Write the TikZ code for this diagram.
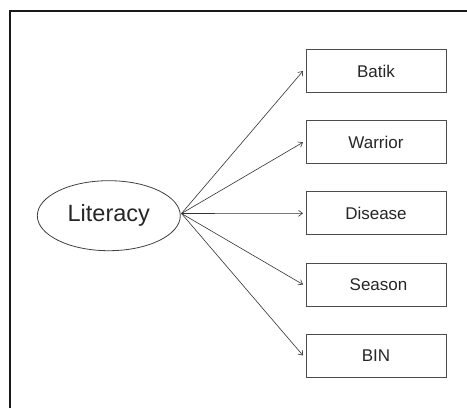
\documentclass[tikz,border=0pt]{standalone}
\usepackage{fontspec}
\setmainfont{Liberation Sans}
\usetikzlibrary{shapes.geometric,arrows.meta}
\begin{document}
\begin{tikzpicture}[x=1pt,y=-1pt,
  itembox/.style={draw=black!70,line width=1pt,minimum width=140pt,minimum height=43pt,inner sep=0pt,font=\fontsize{17}{19}\selectfont,text=black!85},
  latent/.style={ellipse,draw=black!75,line width=0.8pt,minimum width=143pt,minimum height=70pt,inner sep=0pt,font=\fontsize{23.5}{25}\selectfont,text=black!85},
  link/.style={draw=black!80,line width=0.6pt,-{Straight Barb[length=4pt,width=6pt]}}]
\useasboundingbox (0,0) rectangle (467,408);
\draw[line width=1.8pt,black!90] (10,408) -- (10,11) -- (467,11);
\node[latent] (lit) at (108.8,215.7) {Literacy};
\coordinate (src) at (181.5,213.5);
\node[itembox] (b1) at (376,71) {Batik};
\node[itembox] (b2) at (376,142.3) {Warrior};
\node[itembox] (b3) at (376,213.3) {Disease};
\node[itembox] (b4) at (376,284.5) {\hspace*{5pt}Season};
\node[itembox] (b5) at (376,355.5) {BIN};
\foreach \b in {b1,b2,b3,b4,b5}
  \draw[link] (src) -- ([xshift=-2.5pt]\b.west);
\end{tikzpicture}
\end{document}
